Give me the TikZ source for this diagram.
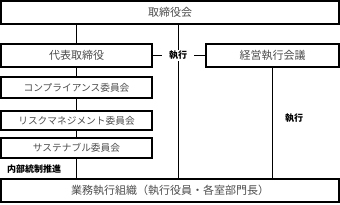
\documentclass[tikz,border=0pt]{standalone}
\usepackage{fontspec}
\setmainfont{Noto Sans CJK JP}
\usepackage{tikz}
\usetikzlibrary{positioning}

\begin{document}
\begin{tikzpicture}[x=1pt, y=1pt,
    box/.style={draw, line width=1.1pt, inner sep=0pt, text=black!70, font=\fontsize{11}{13}\selectfont},
    subbox/.style={box, font=\fontsize{9.7}{12}\selectfont},
    tag/.style={inner xsep=7pt, inner ysep=1pt, font=\bfseries\fontsize{9}{11}\selectfont},
    link/.style={line width=0.8pt}]
    \useasboundingbox (0,0) rectangle (340,204);
    \node[box, minimum width=338pt, minimum height=23pt] (board) at (170,191.5) {取締役会};
    \node[box, minimum width=151pt, minimum height=23pt] (rep) at (76.5,148.5) {代表取締役};
    \node[box, minimum width=133pt, minimum height=23pt] (mgmt) at (272.5,148.5) {経営執行会議};
    \node[subbox, minimum width=151pt, minimum height=21pt] (comp) at (76.5,116.5) {コンプライアンス委員会};
    \node[subbox, minimum width=151pt, minimum height=19pt] (risk) at (76.5,83.5) {リスクマネジメント委員会};
    \node[subbox, minimum width=151pt, minimum height=20pt] (sust) at (76.5,56) {サステナブル委員会};
    \node[box, minimum width=338pt, minimum height=23pt] (ops) at (170,13.5) {業務執行組織（執行役員・各室部門長）};
    \node[tag] (exec) at (178,148.5) {執行};
    \node[tag] (exec2) at (294,86) {執行};
    \node[tag, anchor=west, inner xsep=0pt] (ctrl) at (7,35) {内部統制推進};
    \draw[link] (rep.north) -- (rep.north |- board.south);
    \draw[link] (exec |- board.south) -- (exec.north);
    \draw[link] (exec.south) -- (exec |- ops.north);
    \draw[link] (rep.east) -- (exec.west);
    \draw[link] (exec.east) -- (mgmt.west);
    \draw[link] (rep.south) -- (comp.north);
    \draw[link] (comp.south) -- (risk.north);
    \draw[link] (risk.south) -- (sust.north);
    \draw[link] (sust.south) -- (sust.south |- ops.north);
    \draw[link] (mgmt.south) -- (mgmt.south |- ops.north);
\end{tikzpicture}
\end{document}
